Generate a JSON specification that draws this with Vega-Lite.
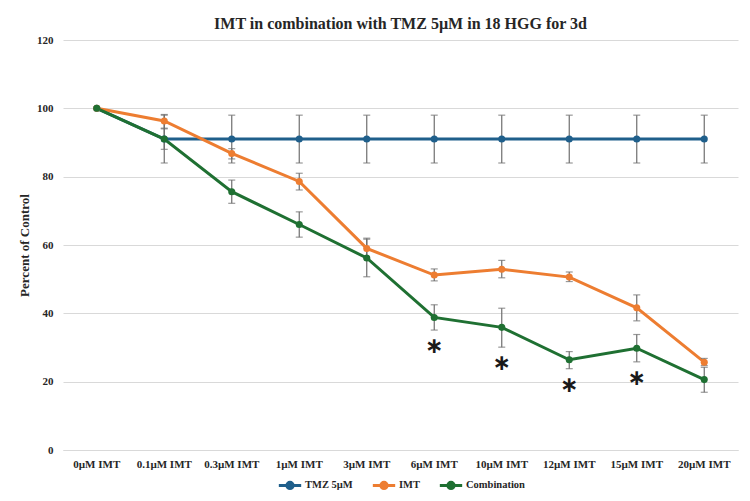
{
  "$schema": "https://vega.github.io/schema/vega-lite/v6.json",
  "width": 675,
  "height": 410,
  "padding": {"left": 18, "top": 16, "right": 10, "bottom": 2},
  "background": "white",
  "title": {
    "text": "IMT in combination with TMZ 5µM in 18 HGG for 3d",
    "font": "Liberation Serif",
    "fontSize": 16,
    "fontWeight": "bold",
    "color": "#262626",
    "anchor": "middle",
    "offset": 2
  },
  "config": {
    "view": {"stroke": null},
    "legend": {"layout": {"bottom": {"anchor": "middle"}}},
    "axis": {
      "labelFont": "Liberation Serif",
      "labelFontWeight": "bold",
      "labelFontSize": 11,
      "labelColor": "#262626",
      "titleFont": "Liberation Serif",
      "titleFontWeight": "bold",
      "titleFontSize": 13,
      "titleColor": "#262626"
    }
  },
  "data": {
    "values": [
      {"dose": "0µM IMT", "series": "TMZ 5µM", "value": 100, "lo": null, "hi": null},
      {"dose": "0.1µM IMT", "series": "TMZ 5µM", "value": 91, "lo": 84, "hi": 98},
      {"dose": "0.3µM IMT", "series": "TMZ 5µM", "value": 91, "lo": 84, "hi": 98},
      {"dose": "1µM  IMT", "series": "TMZ 5µM", "value": 91, "lo": 84, "hi": 98},
      {"dose": "3µM IMT", "series": "TMZ 5µM", "value": 91, "lo": 84, "hi": 98},
      {"dose": "6µM IMT", "series": "TMZ 5µM", "value": 91, "lo": 84, "hi": 98},
      {"dose": "10µM IMT", "series": "TMZ 5µM", "value": 91, "lo": 84, "hi": 98},
      {"dose": "12µM IMT", "series": "TMZ 5µM", "value": 91, "lo": 84, "hi": 98},
      {"dose": "15µM IMT", "series": "TMZ 5µM", "value": 91, "lo": 84, "hi": 98},
      {"dose": "20µM IMT", "series": "TMZ 5µM", "value": 91, "lo": 84, "hi": 98},

      {"dose": "0µM IMT", "series": "IMT", "value": 100, "lo": null, "hi": null},
      {"dose": "0.1µM IMT", "series": "IMT", "value": 96.3, "lo": 94.2, "hi": 98.2},
      {"dose": "0.3µM IMT", "series": "IMT", "value": 86.8, "lo": 85.2, "hi": 88.2},
      {"dose": "1µM  IMT", "series": "IMT", "value": 78.6, "lo": 76.1, "hi": 81},
      {"dose": "3µM IMT", "series": "IMT", "value": 59, "lo": 56, "hi": 62},
      {"dose": "6µM IMT", "series": "IMT", "value": 51.2, "lo": 49.5, "hi": 53},
      {"dose": "10µM IMT", "series": "IMT", "value": 52.9, "lo": 50.4, "hi": 55.5},
      {"dose": "12µM IMT", "series": "IMT", "value": 50.6, "lo": 49.3, "hi": 52.1},
      {"dose": "15µM IMT", "series": "IMT", "value": 41.6, "lo": 37.8, "hi": 45.4},
      {"dose": "20µM IMT", "series": "IMT", "value": 25.7, "lo": 24.7, "hi": 26.8},

      {"dose": "0µM IMT", "series": "Combination", "value": 100, "lo": null, "hi": null},
      {"dose": "0.1µM IMT", "series": "Combination", "value": 91, "lo": 88, "hi": 94},
      {"dose": "0.3µM IMT", "series": "Combination", "value": 75.6, "lo": 72.2, "hi": 79},
      {"dose": "1µM  IMT", "series": "Combination", "value": 66, "lo": 62.3, "hi": 69.7},
      {"dose": "3µM IMT", "series": "Combination", "value": 56.2, "lo": 50.7, "hi": 61.7},
      {"dose": "6µM IMT", "series": "Combination", "value": 38.8, "lo": 35.1, "hi": 42.5, "sig": "∗"},
      {"dose": "10µM IMT", "series": "Combination", "value": 35.9, "lo": 30.1, "hi": 41.5, "sig": "∗"},
      {"dose": "12µM IMT", "series": "Combination", "value": 26.4, "lo": 23.8, "hi": 28.8, "sig": "∗"},
      {"dose": "15µM IMT", "series": "Combination", "value": 29.8, "lo": 25.8, "hi": 33.8, "sig": "∗"},
      {"dose": "20µM IMT", "series": "Combination", "value": 20.6, "lo": 16.9, "hi": 24.2}
    ]
  },
  "encoding": {
    "x": {
      "field": "dose",
      "type": "nominal",
      "sort": null,
      "scale": {"paddingInner": 0, "paddingOuter": 0},
      "axis": {
        "title": null,
        "labelAngle": 0,
        "ticks": false,
        "domain": true,
        "domainColor": "#d9d9d9",
        "labelPadding": 8
      }
    }
  },
  "layer": [
    {
      "mark": {"type": "line", "strokeWidth": 3},
      "encoding": {
        "y": {
          "field": "value",
          "type": "quantitative",
          "title": "Percent of Control",
          "scale": {"domain": [0, 120]},
          "axis": {
            "values": [0, 20, 40, 60, 80, 100, 120],
            "grid": true,
            "gridColor": "#d9d9d9",
            "gridWidth": 1,
            "domain": false,
            "ticks": false,
            "labelPadding": 10,
            "titlePadding": 5
          }
        },
        "color": {
          "field": "series",
          "type": "nominal",
          "sort": ["TMZ 5µM", "IMT", "Combination"],
          "scale": {
            "domain": ["TMZ 5µM", "IMT", "Combination"],
            "range": ["#1f5f8b", "#ed7d31", "#1f7032"]
          },
          "legend": {
            "title": null,
            "orient": "bottom",
            "direction": "horizontal",
            "labelFont": "Liberation Serif",
            "labelFontWeight": "bold",
            "labelFontSize": 10.5,
            "labelColor": "#262626",
            "symbolType": "M-1,0H1M-0.28,0A0.28,0.28 0 1 1 0.28,0A0.28,0.28 0 1 1 -0.28,0",
            "symbolSize": 500,
            "symbolStrokeWidth": 3,
            "columnPadding": 13,
            "labelOffset": 2,
            "offset": 3,
            "encode": {
              "symbols": {
                "update": {
                  "fill": {"scale": "color", "field": "value"},
                  "stroke": {"scale": "color", "field": "value"}
                }
              }
            }
          }
        },
        "order": {"field": "series"}
      }
    },
    {
      "transform": [{"filter": "datum.lo != null"}],
      "mark": {
        "type": "errorbar",
        "ticks": {"size": 7, "thickness": 1.2, "color": "#6e6e6e"},
        "rule": {"strokeWidth": 1.2, "color": "#6e6e6e"}
      },
      "encoding": {
        "y": {"field": "lo", "type": "quantitative", "title": "Percent of Control"},
        "y2": {"field": "hi"}
      }
    },
    {
      "mark": {"type": "point", "filled": true, "opacity": 1, "size": 50},
      "encoding": {
        "y": {"field": "value", "type": "quantitative", "title": "Percent of Control"},
        "color": {"field": "series", "type": "nominal", "legend": null}
      }
    },
    {
      "transform": [{"filter": "datum.sig != null"}],
      "mark": {
        "type": "text",
        "font": "DejaVu Sans",
        "fontSize": 22,
        "fontWeight": "bold",
        "color": "#1a1a1a",
        "baseline": "middle",
        "dy": 16
      },
      "encoding": {
        "y": {"field": "lo", "type": "quantitative", "title": "Percent of Control"},
        "text": {"field": "sig"}
      }
    }
  ]
}
